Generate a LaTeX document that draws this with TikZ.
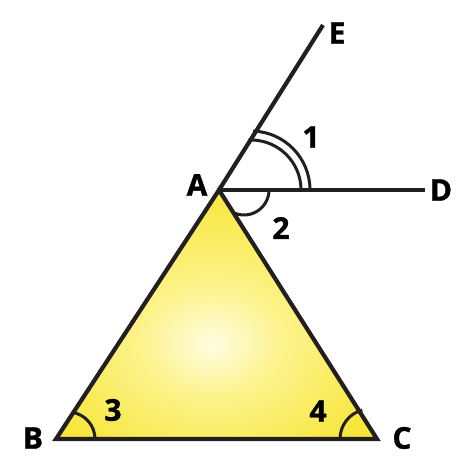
\documentclass[tikz,border=0pt]{standalone}
\usepackage{fontspec}
\setmainfont{Open Sans}[BoldFeatures={FakeBold=1.2}]
\definecolor{ylight}{RGB}{255,253,226}
\definecolor{ymid}{RGB}{252,243,140}
\definecolor{yedge}{RGB}{247,230,55}
\definecolor{yout}{RGB}{244,226,35}
\definecolor{ink}{RGB}{35,31,32}
\pgfdeclareradialshading{trishade}{\pgfpoint{-0.8bp}{-6bp}}{%
  color(0bp)=(ylight); color(11bp)=(ymid); color(30bp)=(yedge); color(60bp)=(yout); color(100bp)=(yout)}
\begin{document}
\begin{tikzpicture}[x=1pt,y=1pt,
  lbl/.style={font=\fontsize{30}{30}\selectfont\bfseries, inner sep=0pt, text=black},
  edge/.style={line width=4.2pt, draw=ink},
  angarc/.style={line width=3pt, draw=ink}]
\useasboundingbox (0,0) rectangle (464,466);
\coordinate (A) at (219,276);
\coordinate (B) at (56,27);
\coordinate (C) at (377,27);
\coordinate (E) at (323,441);
\coordinate (D) at (425,276);
% triangle fill
\shade[shading=trishade] (A) -- (B) -- (C) -- cycle;
% angle arcs
\draw[angarc] (310,276) arc[start angle=0, end angle=88, radius=59];
\draw[angarc] (301,276) arc[start angle=0, end angle=93, radius=50];
\draw[angarc] (269,276) arc[start angle=0, end angle=-114, radius=25];
\draw[angarc] (95,27) arc[start angle=0, end angle=82, radius=27];
\draw[angarc] (340,27) arc[start angle=180, end angle=105, radius=30];
% lines
\draw[edge, line join=miter] (A) -- (B) -- (C) -- cycle;
\draw[edge] (A) -- (E);
\draw[edge] (A) -- (D);
% labels
\node[lbl] (lA) at (197,281) {A};
\node[lbl] (lB) at (33,28) {B};
\node[lbl] (lC) at (402,28) {C};
\node[lbl] (lD) at (441,276) {D};
\node[lbl] (lE) at (337,433) {E};
\node[lbl] (l1) at (311,329) {1};
\node[lbl] (l2) at (281,238) {2};
\node[lbl] (l3) at (113,56) {3};
\node[lbl] (l4) at (318,55) {4};
\end{tikzpicture}
\end{document}
